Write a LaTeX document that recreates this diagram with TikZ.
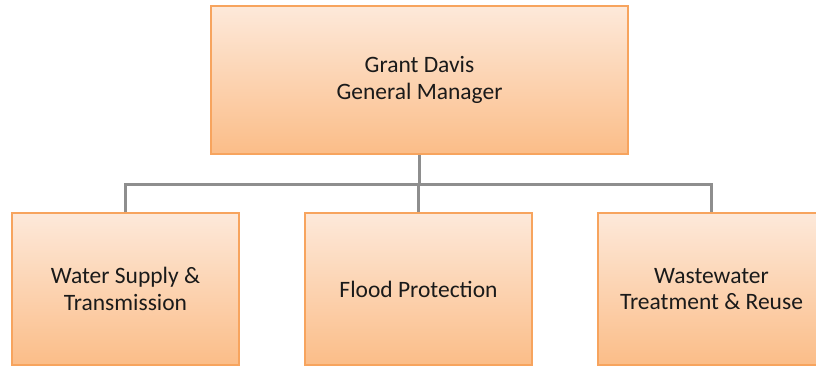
\documentclass[tikz,border=0pt]{standalone}
\usepackage{fontspec}
\setmainfont{Carlito}
\usetikzlibrary{shadows}
\definecolor{boxedge}{HTML}{F7A45E}
\definecolor{boxtop}{HTML}{FDE9DA}
\definecolor{boxbottom}{HTML}{FBBD88}
\definecolor{linkgray}{HTML}{8E8E8E}
\definecolor{textdark}{HTML}{1A1A1A}
\begin{document}
\begin{tikzpicture}[x=1pt,y=-1pt,
  orgbox/.style={draw=boxedge, line width=1.5pt, top color=boxtop, bottom color=boxbottom,
    minimum width=227pt, minimum height=152pt, align=center, text=textdark,
    font=\fontsize{23.5}{26.5}\selectfont,
    drop shadow={shadow xshift=1.2pt, shadow yshift=-1.2pt, opacity=0.3, fill=black!45}},
  topbox/.style={orgbox, minimum width=417pt, minimum height=148pt},
  link/.style={draw=linkgray, line width=3pt}]
\useasboundingbox (0,0) rectangle (816,368);
\coordinate (bus) at (420,184);
\node[topbox] (gm) at (419.5,80) {Grant Davis\\General Manager};
\node[orgbox] (ws) at (125.5,289) {Water Supply \&\\Transmission};
\node[orgbox] (fp) at (418.5,289) {Flood Protection};
\node[orgbox] (ww) at (711.5,289) {Wastewater\\Treatment \& Reuse};
\draw[link] (gm.south) -- (gm.south |- bus);
\draw[link] (ws.north) -- (ws.north |- bus) -| (ww.north);
\draw[link] (fp.north) -- (fp.north |- bus);
\end{tikzpicture}
\end{document}
